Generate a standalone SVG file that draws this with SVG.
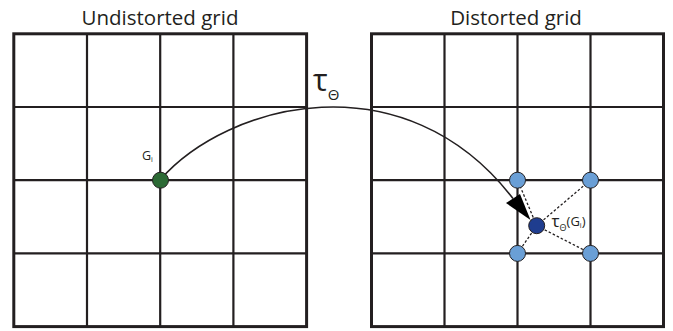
<svg xmlns="http://www.w3.org/2000/svg" width="673" height="331" viewBox="0 0 673 331">
<style>
.title{font-family:"Open Sans","Liberation Sans",sans-serif;font-size:20.5px;fill:#231f20}
.lbl{font-family:"Open Sans","Liberation Sans",sans-serif;fill:#231f20}
.inner{stroke:#231f20;stroke-width:2.2;fill:none}
.outer{stroke:#231f20;stroke-width:3;fill:none}
.dash{stroke:#231f20;stroke-width:1.3;stroke-dasharray:2.5 2;fill:none}
.lb{fill:#6a9fd6;stroke:#231f20;stroke-width:1}
</style>
<rect width="673" height="331" fill="#ffffff"/>
<text class="title" x="160" y="25" text-anchor="middle">Undistorted grid</text>
<text class="title" x="516" y="25" text-anchor="middle">Distorted grid</text>
<g id="undistorted-grid">
<path class="inner" d="M87,33.8V326.6M160.2,33.8V326.6M233.4,33.8V326.6M13.8,107H306.6M13.8,180.2H306.6M13.8,253.4H306.6"/>
<rect class="outer" x="13.8" y="33.8" width="292.8" height="292.8"/>
</g>
<g id="distorted-grid">
<path class="inner" d="M444.5,33.8V326.6M517.5,33.8V326.6M590.5,33.8V326.6M371.5,107H663.5M371.5,180.2H663.5M371.5,253.4H663.5"/>
<rect class="outer" x="371.5" y="33.8" width="292" height="292.8"/>
</g>
<g id="connectors">
<path d="M160,180 C228,102 405,58 513,198.5" fill="none" stroke="#231f20" stroke-width="1.6"/>
<polygon points="506,203 520,194 530.5,220" fill="#000"/>
<path class="dash" d="M536.7,225.7L517.5,180M536.7,225.7L590.5,180M536.7,225.7L517.5,253.4M536.7,225.7L590.5,253.4"/>
</g>
<g id="node-Gi">
<circle cx="160.5" cy="180.2" r="8" fill="#2c6a35" stroke="#231f20" stroke-width="1"/>
<text class="lbl" x="142" y="160" font-size="12.5">G<tspan font-size="7" dy="1.5">i</tspan></text>
</g>
<g id="label-tau">
<text class="lbl" x="313" y="91" font-size="31">τ<tspan font-size="15" dy="9">Θ</tspan></text>
</g>
<g id="neighbors">
<circle class="lb" cx="517.5" cy="180.2" r="8"/>
<circle class="lb" cx="590.5" cy="180.2" r="8"/>
<circle class="lb" cx="517.5" cy="253.4" r="8"/>
<circle class="lb" cx="590.5" cy="253.4" r="8"/>
</g>
<g id="node-tauGi">
<circle cx="536.7" cy="225.7" r="8" fill="#1f3d8f" stroke="#231f20" stroke-width="1"/>
<text class="lbl" x="551.5" y="227" font-size="17">τ<tspan font-size="9" dy="4">Θ</tspan><tspan font-size="13" dy="-5">(G</tspan><tspan font-size="7" dy="2">i</tspan><tspan font-size="13" dy="-2">)</tspan></text>
</g>
</svg>
